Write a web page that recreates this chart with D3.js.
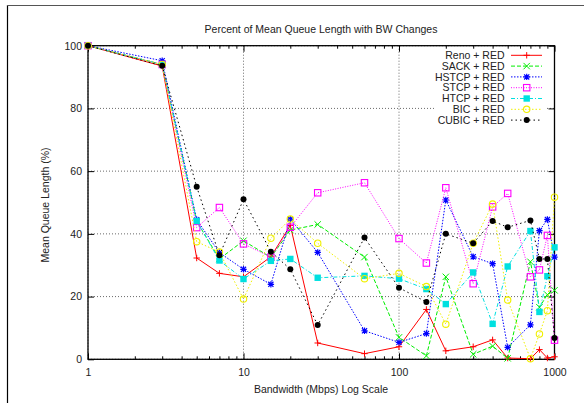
<!DOCTYPE html>
<html>
<head>
<meta charset="utf-8">
<script src="https://cdn.jsdelivr.net/npm/d3@7/dist/d3.min.js"></script>
<style>
  body { margin: 0; background: #fff; }
  svg { display: block; font-family: "Liberation Sans", Arial, Helvetica, sans-serif; }
</style>
</head>
<body>
<svg id="chart" width="584" height="403"></svg>
<script>
// ---- data ----
const bandwidths = [1, 3, 5, 7, 10, 15, 20, 30, 60, 100, 150, 200, 300, 400, 500, 700, 800, 900, 1000];
const seriesNames = ["Reno + RED", "SACK + RED", "HSTCP + RED", "STCP + RED", "HTCP + RED", "BIC + RED", "CUBIC + RED"];
const reno  = [100, 93.5, 32.3, 27.4, 26.3, 32.7, 42.7, 5.2, 1.8, 4.0, 15.9, 2.7, 4.0, 6.2, 0.4, 0.2, 3.1, 0.4, 0.8];
const sack  = [100, 94.0, 44.0, 32.0, 37.8, 32.5, 41.2, 43.0, 32.6, 7.0, 1.1, 26.3, 1.6, 4.2, 0.3, 31.1, 16.6, 20.6, 22.0];
const hstcp = [100, 95.2, 44.5, 34.0, 28.7, 23.9, 44.7, 34.1, 9.1, 5.4, 8.2, 50.8, 32.7, 30.5, 3.8, 11.0, 41.0, 44.6, 32.6];
const stcp  = [100, 94.0, 42.0, 48.4, 36.8, 32.6, 42.1, 53.1, 56.3, 38.5, 30.7, 54.7, 24.1, 48.6, 52.9, 26.3, 28.5, 39.5, 6.1];
const htcp  = [100, 94.0, 44.1, 31.5, 25.6, 31.4, 32.0, 26.0, 26.6, 25.7, 22.4, 17.6, 27.7, 11.3, 29.6, 40.9, 15.1, 26.5, 35.7];
const bic   = [100, 94.0, 37.5, 34.2, 19.2, 38.6, 44.7, 37.0, 25.7, 27.4, 23.2, 11.2, 37.0, 49.5, 18.9, 0.2, 8.1, 15.5, 51.7];
const cubic = [100, 93.6, 55.0, 33.2, 51.0, 34.3, 28.7, 10.9, 38.8, 22.8, 18.3, 40.0, 37.0, 44.1, 42.1, 44.3, 32.0, 32.0, 6.8];
const xTicks = [1, 10, 100, 1000];
const yTicks = [0, 20, 40, 60, 80, 100];
const titleText = "Percent of Mean Queue Length with BW Changes";
const xLabel = "Bandwidth (Mbps) Log Scale";
const yLabel = "Mean Queue Length (%)";

// ---- styles ----
const seriesValues = [reno, sack, hstcp, stcp, htcp, bic, cubic];
const colors = ["#ff0000", "#00ee00", "#0000ff", "#ff00ff", "#00e0e0", "#f0f000", "#000000"];
const dashes = [null, "4,2", "1.5,1.5", "1,1.5", "4,2,1,2", "1.5,2", "1.5,3"];
const markers = ["plus", "cross", "star", "osquare", "fsquare", "ocircle", "fcircle"];

const svg = d3.select("#chart");
const L = 88, R = 554.5, T = 45.7, B = 359.3;
const x = d3.scaleLog().domain([1, 1000]).range([L, R]);
const y = d3.scaleLinear().domain([0, 100]).range([B, T]);

// outer page frame
svg.append("line").attr("x1", 7.5).attr("x2", 7.5).attr("y1", 5).attr("y2", 403).attr("stroke", "#000").attr("stroke-width", 1.2);
svg.append("line").attr("x1", 7).attr("x2", 584).attr("y1", 5.5).attr("y2", 5.5).attr("stroke", "#555").attr("stroke-width", 1.2);

// grid
const grid = svg.append("g").attr("stroke", "#444").attr("stroke-width", 0.8).attr("stroke-dasharray", "1,2");
grid.selectAll(".gx").data(xTicks).join("line")
  .attr("x1", d => x(d)).attr("x2", d => x(d)).attr("y1", T).attr("y2", B);
grid.selectAll(".gy").data(yTicks).join("line")
  .attr("x1", L).attr("x2", R).attr("y1", d => y(d)).attr("y2", d => y(d));

// minor ticks
const minor = [];
for (let dec = 1; dec < 1000; dec *= 10) for (let k = 2; k <= 9; k++) minor.push(dec * k);

const fmt = d3.format("d");
const axB = svg.append("g").attr("transform", `translate(0,${B})`)
  .call(d3.axisBottom(x).tickValues(xTicks).tickFormat(fmt).tickSize(-6).tickPadding(9));
const axBm = svg.append("g").attr("transform", `translate(0,${B})`)
  .call(d3.axisBottom(x).tickValues(minor).tickFormat("").tickSize(-3));
const axT = svg.append("g").attr("transform", `translate(0,${T})`)
  .call(d3.axisTop(x).tickValues(xTicks).tickFormat("").tickSize(-6));
const axTm = svg.append("g").attr("transform", `translate(0,${T})`)
  .call(d3.axisTop(x).tickValues(minor).tickFormat("").tickSize(-3));
const axL = svg.append("g").attr("transform", `translate(${L},0)`)
  .call(d3.axisLeft(y).tickValues(yTicks).tickFormat(fmt).tickSize(-6).tickPadding(6));
const axR = svg.append("g").attr("transform", `translate(${R},0)`)
  .call(d3.axisRight(y).tickValues(yTicks).tickFormat("").tickSize(-6));
[axB, axBm, axT, axTm, axL, axR].forEach(g => {
  g.select(".domain").remove();
  g.selectAll("line").attr("stroke", "#000").attr("stroke-width", 1);
  g.selectAll("text").attr("font-size", "10.5px").attr("fill", "#222")
    .attr("font-family", "'Liberation Sans', Arial, sans-serif");
});
axB.selectAll("text").attr("dy", "0.71em");

// legend background (masks grid)
const legX = 434, legY0 = 50;
svg.append("rect").attr("x", legX).attr("y", legY0).attr("width", 547 - legX).attr("height", 77).attr("fill", "#fff");

// border
svg.append("rect").attr("x", L).attr("y", T).attr("width", R - L).attr("height", B - T)
  .attr("fill", "none").attr("stroke", "#000").attr("stroke-width", 1.3);

// marker drawing
function drawMarker(g, type, color, cx, cy) {
  const s = 3.2;
  if (type === "plus") {
    g.append("path").attr("d", `M${cx - s},${cy}H${cx + s}M${cx},${cy - s}V${cy + s}`).attr("stroke", color).attr("stroke-width", 1).attr("fill", "none");
  } else if (type === "cross") {
    g.append("path").attr("d", `M${cx - s},${cy - s}L${cx + s},${cy + s}M${cx - s},${cy + s}L${cx + s},${cy - s}`).attr("stroke", color).attr("stroke-width", 1).attr("fill", "none");
  } else if (type === "star") {
    g.append("path").attr("d", `M${cx - s},${cy}H${cx + s}M${cx},${cy - s}V${cy + s}M${cx - s * 0.8},${cy - s * 0.8}L${cx + s * 0.8},${cy + s * 0.8}M${cx - s * 0.8},${cy + s * 0.8}L${cx + s * 0.8},${cy - s * 0.8}`).attr("stroke", color).attr("stroke-width", 1.2).attr("fill", "none");
  } else if (type === "osquare") {
    g.append("rect").attr("x", cx - s).attr("y", cy - s).attr("width", 2 * s).attr("height", 2 * s).attr("fill", "none").attr("stroke", color).attr("stroke-width", 1.1);
  } else if (type === "fsquare") {
    g.append("rect").attr("x", cx - s).attr("y", cy - s).attr("width", 2 * s).attr("height", 2 * s).attr("fill", color);
  } else if (type === "ocircle") {
    g.append("circle").attr("cx", cx).attr("cy", cy).attr("r", s).attr("fill", "none").attr("stroke", color).attr("stroke-width", 1.1);
  } else if (type === "fcircle") {
    g.append("circle").attr("cx", cx).attr("cy", cy).attr("r", 3).attr("fill", color);
  }
}

// series
const line = d3.line().x(d => x(d[0])).y(d => y(d[1]));
seriesValues.forEach((vals, i) => {
  const pts = bandwidths.map((b, j) => [b, vals[j]]);
  const g = svg.append("g");
  g.append("path").attr("d", line(pts)).attr("fill", "none").attr("stroke", colors[i])
    .attr("stroke-width", 1).attr("stroke-dasharray", dashes[i]);
  pts.forEach(p => drawMarker(g, markers[i], colors[i], x(p[0]), y(p[1])));
});

// legend
const leg = svg.append("g");
seriesNames.forEach((name, i) => {
  const ly = 55.3 + i * 10.8;
  leg.append("text").attr("x", 504.5).attr("y", ly).attr("dy", "0.35em").attr("text-anchor", "end")
    .attr("font-size", "10.5px").attr("fill", "#222").text(name);
  leg.append("line").attr("x1", 511).attr("x2", 542).attr("y1", ly).attr("y2", ly)
    .attr("stroke", colors[i]).attr("stroke-width", 1).attr("stroke-dasharray", dashes[i]);
  drawMarker(leg, markers[i], colors[i], 526.7, ly);
});

// titles
svg.append("text").attr("x", 321).attr("y", 29).attr("dy", "0.35em").attr("text-anchor", "middle")
  .attr("font-size", "10.5px").attr("fill", "#222").text(titleText);
svg.append("text").attr("x", 321).attr("y", 389).attr("dy", "0.35em").attr("text-anchor", "middle")
  .attr("font-size", "10.5px").attr("fill", "#222").text(xLabel);
svg.append("text").attr("transform", "translate(45,205) rotate(-90)").attr("dy", "0.35em").attr("text-anchor", "middle")
  .attr("font-size", "10.5px").attr("fill", "#222").text(yLabel);
</script>
</body>
</html>
